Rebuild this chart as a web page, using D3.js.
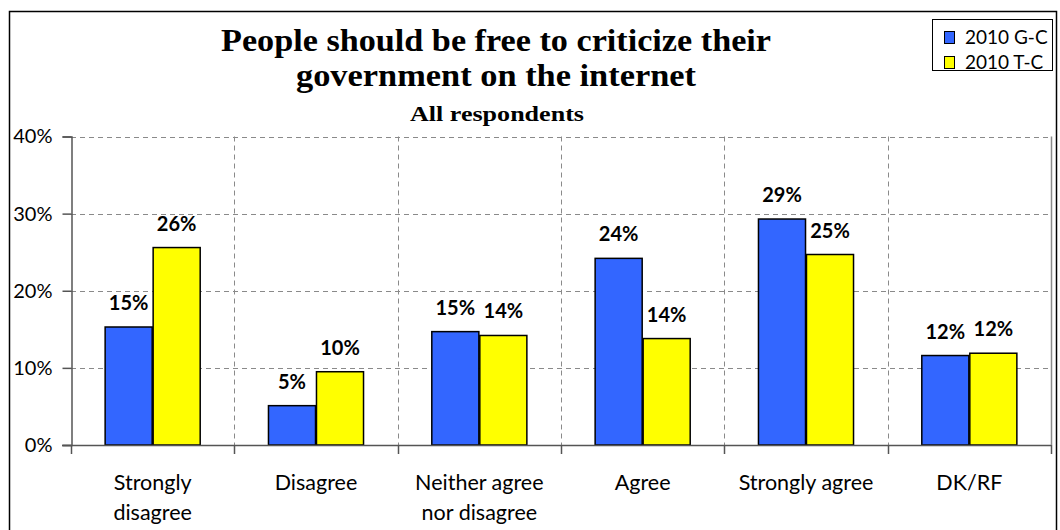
<!DOCTYPE html>
<html>
<head>
<meta charset="utf-8">
<script src="https://cdn.jsdelivr.net/npm/d3@7"></script>
<style>
  html, body { margin: 0; padding: 0; background: #fff; }
  svg { display: block; }
</style>
</head>
<body>
<svg id="chart" width="1060" height="530"></svg>
<script>
const categories = [["Strongly", "disagree"], ["Disagree"], ["Neither agree", "nor disagree"], ["Agree"], ["Strongly agree"], ["DK/RF"]];
const categoryKeys = ["Strongly disagree", "Disagree", "Neither agree nor disagree", "Agree", "Strongly agree", "DK/RF"];
const seriesNames = ["2010 G-C", "2010 T-C"];
const seriesColors = ["#3366FF", "#FFFF00"];
const gcValues = [15.3, 5.1, 14.7, 24.2, 29.3, 11.6];
const tcValues = [25.6, 9.5, 14.2, 13.8, 24.7, 11.9];
const gcLabels = ["15%", "5%", "15%", "24%", "29%", "12%"];
const tcLabels = ["26%", "10%", "14%", "14%", "25%", "12%"];
const yTicks = [0, 10, 20, 30, 40];
const titleLines = ["People should be free to criticize their", "government on the internet"];
const subtitle = "All respondents";

(function () {
const svg = d3.select("#chart");
const sansFont = "Lato, 'Open Sans', sans-serif";
const serifFont = "'Liberation Serif', 'DejaVu Serif', serif";

// outer frame
svg.append("rect").attr("x", 9.5).attr("y", 11.5).attr("width", 1047).attr("height", 530)
  .attr("fill", "#fff").attr("stroke", "#000").attr("stroke-width", 1.5);

const pLeft = 71, pRight = 1051, pTop = 136.5, pBottom = 445;
const x0 = d3.scaleBand().domain(categoryKeys).range([pLeft, pRight]).paddingInner(0.418).paddingOuter(0.209);
const x1 = d3.scaleBand().domain(seriesNames).range([0, x0.bandwidth()]).paddingInner(0.02);
const y = d3.scaleLinear().domain([0, 40]).range([pBottom, pTop]);

const step = x0.step();
const bounds = d3.range(categoryKeys.length + 1).map(i => pLeft + i * step);

// horizontal grid
svg.append("g").selectAll("line").data(yTicks.filter(t => t > 0)).join("line")
  .attr("x1", pLeft).attr("x2", pRight)
  .attr("y1", d => Math.round(y(d)) + 0.5).attr("y2", d => Math.round(y(d)) + 0.5)
  .attr("stroke", "#8a8a8a").attr("stroke-width", 1).attr("stroke-dasharray", "5,4");
// vertical grid
svg.append("g").selectAll("line").data(bounds.slice(1, -1)).join("line")
  .attr("x1", d => Math.round(d) + 0.5).attr("x2", d => Math.round(d) + 0.5)
  .attr("y1", pTop).attr("y2", pBottom)
  .attr("stroke", "#8a8a8a").attr("stroke-width", 1).attr("stroke-dasharray", "5,4");
// right border of plot
svg.append("line").attr("x1", pRight + 0.5).attr("x2", pRight + 0.5).attr("y1", pTop).attr("y2", pBottom)
  .attr("stroke", "#8a8a8a").attr("stroke-width", 1.5);

// bars
const rows = categoryKeys.map((k, i) => ({ key: k, vals: [gcValues[i], tcValues[i]], labels: [gcLabels[i], tcLabels[i]] }));
const groups = svg.append("g").selectAll("g").data(rows).join("g")
  .attr("transform", d => `translate(${x0(d.key)},0)`);
groups.selectAll("rect").data(d => d.vals.map((v, j) => ({ v, s: seriesNames[j], c: seriesColors[j] }))).join("rect")
  .attr("x", d => x1(d.s)).attr("width", x1.bandwidth())
  .attr("y", d => y(d.v)).attr("height", d => y(0) - y(d.v))
  .attr("fill", d => d.c).attr("stroke", "#000").attr("stroke-width", 1.5);
groups.selectAll("text").data(d => d.vals.map((v, j) => ({ v, s: seriesNames[j], l: d.labels[j] }))).join("text")
  .attr("x", d => x1(d.s) + x1.bandwidth() / 2).attr("y", d => y(d.v) - 17)
  .attr("text-anchor", "middle").attr("font-family", sansFont).attr("font-weight", "bold")
  .attr("font-size", 20).attr("fill", "#000").text(d => d.l);

// y axis
const yAxis = d3.axisLeft(y).tickValues(yTicks).tickFormat(d => d + "%").tickSize(9).tickPadding(10);
const ya = svg.append("g").attr("transform", `translate(${pLeft + 0.5},0)`).call(yAxis);
ya.select(".domain").attr("stroke", "#555").attr("stroke-width", 1.5);
ya.selectAll(".tick line").attr("stroke", "#555").attr("stroke-width", 1.5);
ya.selectAll(".tick text").attr("font-family", sansFont).attr("font-size", 20).attr("fill", "#000");

// x axis
svg.append("line").attr("x1", pLeft - 9).attr("x2", pRight).attr("y1", pBottom + 0.5).attr("y2", pBottom + 0.5)
  .attr("stroke", "#555").attr("stroke-width", 1.5);
svg.append("g").selectAll("line").data(bounds).join("line")
  .attr("x1", d => Math.round(d) + 0.5).attr("x2", d => Math.round(d) + 0.5)
  .attr("y1", pBottom).attr("y2", pBottom + 9).attr("stroke", "#555").attr("stroke-width", 1.5);
const catText = svg.append("g").selectAll("text").data(categoryKeys).join("text")
  .attr("x", d => x0(d) + x0.bandwidth() / 2).attr("y", 490)
  .attr("text-anchor", "middle").attr("font-family", sansFont).attr("font-size", 21.5).attr("fill", "#000");
catText.each(function(d, i) {
  const t = d3.select(this);
  categories[i].forEach((line, j) => {
    t.append("tspan").attr("x", x0(d) + x0.bandwidth() / 2).attr("dy", j === 0 ? 0 : 30).text(line);
  });
});

// title
const titleWidths = [550, 400];
const titleBase = [51, 86];
titleLines.forEach((line, i) => {
  svg.append("text").attr("x", 496).attr("y", titleBase[i]).attr("text-anchor", "middle")
    .attr("font-family", serifFont).attr("font-weight", "bold").attr("font-size", 32).attr("fill", "#000")
    .attr("textLength", titleWidths[i]).attr("lengthAdjust", "spacingAndGlyphs")
    .text(line);
});
svg.append("text").attr("x", 497).attr("y", 121).attr("text-anchor", "middle")
  .attr("font-family", serifFont).attr("font-weight", "bold").attr("font-size", 22).attr("fill", "#000")
  .attr("textLength", 174).attr("lengthAdjust", "spacingAndGlyphs")
  .text(subtitle);

// legend
const lg = svg.append("g");
lg.append("rect").attr("x", 932.5).attr("y", 19.5).attr("width", 120).attr("height", 51)
  .attr("fill", "#fff").attr("stroke", "#000").attr("stroke-width", 1);
seriesNames.forEach((s, i) => {
  lg.append("rect").attr("x", 944.5).attr("y", 31.5 + i * 25).attr("width", 10).attr("height", 12)
    .attr("fill", seriesColors[i]).attr("stroke", "#000").attr("stroke-width", 1);
  lg.append("text").attr("x", 965).attr("y", 44 + i * 25).attr("font-family", sansFont)
    .attr("font-size", 19).attr("fill", "#000").text(s);
});
})();
</script>
</body>
</html>
